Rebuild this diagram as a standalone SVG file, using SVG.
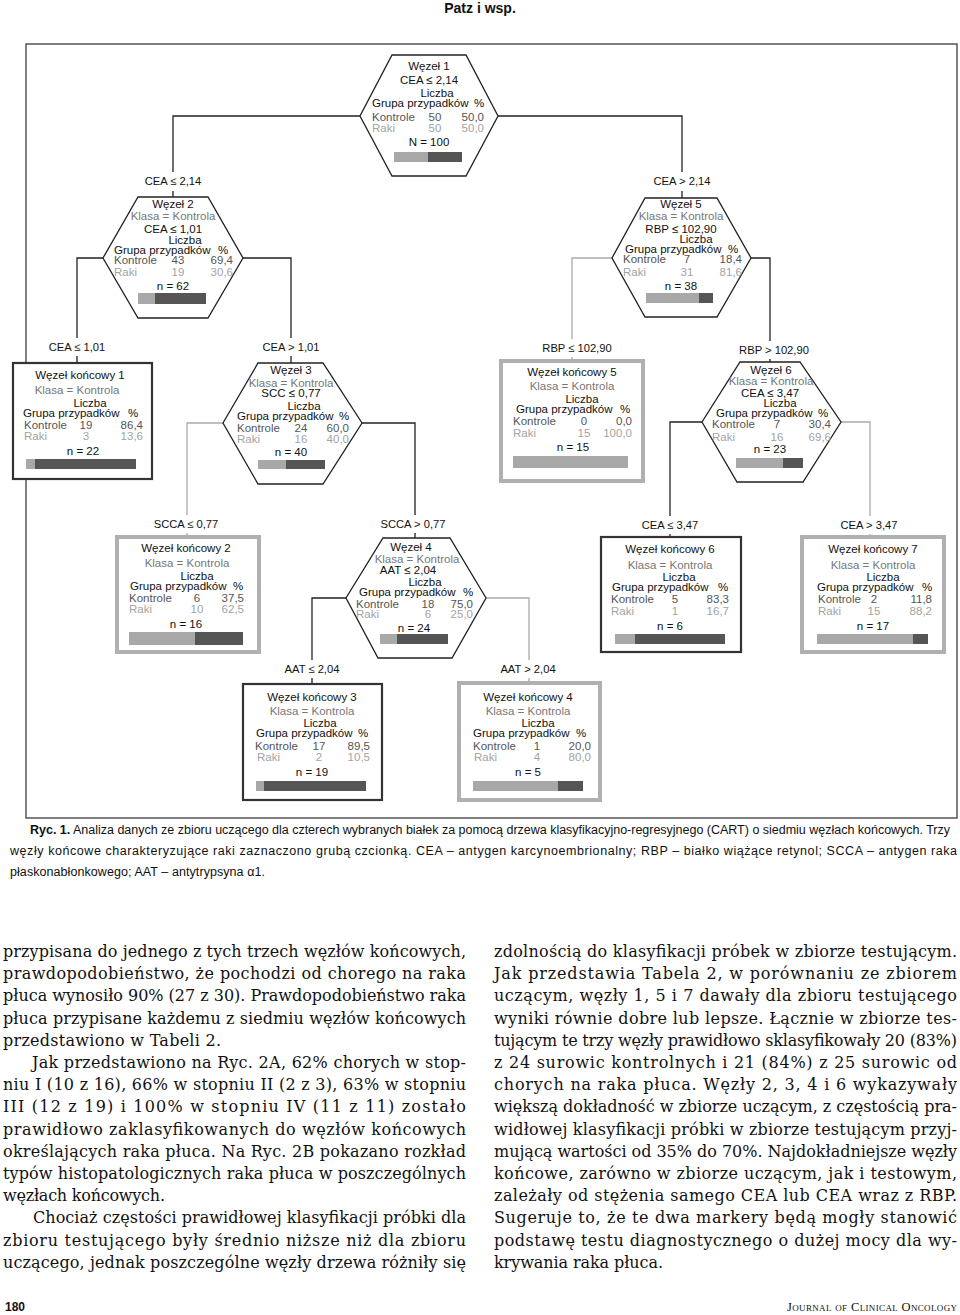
<svg xmlns="http://www.w3.org/2000/svg" width="960" height="1315" viewBox="0 0 960 1315">
<style>
text{font-family:"Liberation Sans",Arial,sans-serif;font-size:11.5px;fill:#111}
.m{text-anchor:middle}
.e{text-anchor:end}
.k{fill:#777}
.g1{fill:#555}
.g2{fill:#a3a3a3}
.lb{font-size:11.2px;text-anchor:middle}
.hex{fill:#fff;stroke:#222;stroke-width:1.3}
.tb{fill:#fff;stroke:#333;stroke-width:2.2}
.tg{fill:#fff;stroke:#b0b0b0;stroke-width:4}
.bl{fill:#a8a8a8}
.bd{fill:#555}
.c{fill:none;stroke:#222;stroke-width:1.3}
.cg{fill:none;stroke:#aaa;stroke-width:1.3}
.body{font-family:"DejaVu Serif","Liberation Serif",serif;font-size:16px;fill:#111}
.cap{font-family:"Liberation Sans Narrow","Liberation Sans",Arial,sans-serif;font-size:12.5px;fill:#111}
</style>

<text x="480" y="13" class="m" style="font-weight:bold;font-size:14px">Patz i wsp.</text>
<rect x="26" y="44" width="931" height="774" fill="none" stroke="#555" stroke-width="1.5"/>

<g id="connectors">
<path class="c" d="M360,116 H173 V172 M173,191 V197"/>
<path class="c" d="M498,116 H682 V172 M682,191 V198"/>
<path class="c" d="M103,258 H77 V338 M77,356 V363"/>
<path class="c" d="M243,258 H291 V338 M291,356 V363"/>
<path class="cg" d="M612,258 H572 V339 M572,357 V361"/>
<path class="c" d="M751,258 H770 V341 M770,359 V362"/>
<path class="cg" d="M223,423 H187 V515 M187,533 V537"/>
<path class="c" d="M362,423 H415 V515 M415,533 V538"/>
<path class="c" d="M702,422 H670 V516 M670,534 V537"/>
<path class="cg" d="M841,422 H870 V516 M870,534 V537"/>
<path class="c" d="M346,598 H312 V660 M312,678 V684"/>
<path class="cg" d="M486,598 H529 V660 M529,678 V683"/>
<text class="lb" x="173" y="185">CEA ≤ 2,14</text>
<text class="lb" x="682" y="185">CEA &gt; 2,14</text>
<text class="lb" x="77" y="351">CEA ≤ 1,01</text>
<text class="lb" x="291" y="351">CEA &gt; 1,01</text>
<text class="lb" x="577" y="352">RBP ≤ 102,90</text>
<text class="lb" x="774" y="354">RBP &gt; 102,90</text>
<text class="lb" x="186" y="528">SCCA ≤ 0,77</text>
<text class="lb" x="413" y="528">SCCA &gt; 0,77</text>
<text class="lb" x="670" y="529">CEA ≤ 3,47</text>
<text class="lb" x="869" y="529">CEA &gt; 3,47</text>
<text class="lb" x="312" y="673">AAT ≤ 2,04</text>
<text class="lb" x="528" y="673">AAT &gt; 2,04</text>
</g>

<g id="node1">
<polygon class="hex" points="392,55 466,55 498,116 466,176 392,176 360,116"/>
<text class="m" x="429" y="70">Węzeł 1</text>
<text class="m" x="429" y="84">CEA ≤ 2,14</text>
<text class="m" x="437" y="97">Liczba</text>
<text x="372" y="107">Grupa  przypadków</text><text class="m" x="479" y="107">%</text>
<text class="g1" x="372" y="121">Kontrole</text><text class="g1 m" x="435" y="121">50</text><text class="g1 e" x="484" y="121">50,0</text>
<text class="g2" x="372" y="132">Raki</text><text class="g2 m" x="435" y="132">50</text><text class="g2 e" x="484" y="132">50,0</text>
<text class="m" x="429" y="146">N = 100</text>
<rect class="bl" x="394" y="152" width="34" height="10"/><rect class="bd" x="428" y="152" width="34" height="10"/>
</g>

<g id="node2">
<polygon class="hex" points="138,197 208,197 243,258 208,318 138,318 103,258"/>
<text class="m" x="173" y="208">Węzeł 2</text>
<text class="m k" x="173" y="220">Klasa = Kontrola</text>
<text class="m" x="173" y="233">CEA ≤ 1,01</text>
<text class="m" x="185" y="244">Liczba</text>
<text x="114" y="254">Grupa  przypadków</text><text class="m" x="223" y="254">%</text>
<text class="g1" x="114" y="264">Kontrole</text><text class="g1 m" x="178" y="264">43</text><text class="g1 e" x="233" y="264">69,4</text>
<text class="g2" x="114" y="276">Raki</text><text class="g2 m" x="178" y="276">19</text><text class="g2 e" x="233" y="276">30,6</text>
<text class="m" x="173" y="290">n = 62</text>
<rect class="bl" x="138" y="293" width="17" height="11"/><rect class="bd" x="155" y="293" width="51" height="11"/>
</g>

<g id="node5">
<polygon class="hex" points="645,198 717,198 751,258 717,317 645,317 612,258"/>
<text class="m" x="681" y="208">Węzeł 5</text>
<text class="m k" x="681" y="220">Klasa = Kontrola</text>
<text class="m" x="681" y="233">RBP ≤ 102,90</text>
<text class="m" x="696" y="243">Liczba</text>
<text x="625" y="253">Grupa  przypadków</text><text class="m" x="733" y="253">%</text>
<text class="g1" x="623" y="263">Kontrole</text><text class="g1 m" x="687" y="263">7</text><text class="g1 e" x="742" y="263">18,4</text>
<text class="g2" x="623" y="276">Raki</text><text class="g2 m" x="687" y="276">31</text><text class="g2 e" x="742" y="276">81,6</text>
<text class="m" x="681" y="290">n = 38</text>
<rect class="bl" x="646" y="293" width="53" height="10"/><rect class="bd" x="699" y="293" width="14" height="10"/>
</g>

<g id="terminal1">
<rect class="tb" x="13" y="363" width="139" height="116"/>
<text class="m" x="80" y="379">Węzeł końcowy 1</text>
<text class="m k" x="77" y="394">Klasa = Kontrola</text>
<text class="m" x="90" y="407">Liczba</text>
<text x="23" y="417">Grupa  przypadków</text><text class="m" x="133" y="417">%</text>
<text class="g1" x="24" y="429">Kontrole</text><text class="g1 m" x="86" y="429">19</text><text class="g1 e" x="143" y="429">86,4</text>
<text class="g2" x="24" y="440">Raki</text><text class="g2 m" x="86" y="440">3</text><text class="g2 e" x="143" y="440">13,6</text>
<text class="m" x="83" y="455">n = 22</text>
<rect class="bl" x="26" y="459" width="9" height="10"/><rect class="bd" x="35" y="459" width="101" height="10"/>
</g>

<g id="node3">
<polygon class="hex" points="258,363 323,363 362,423 323,484 258,484 223,423"/>
<text class="m" x="291" y="374">Węzeł 3</text>
<text class="m k" x="291" y="387">Klasa = Kontrola</text>
<text class="m" x="291" y="397">SCC ≤ 0,77</text>
<text class="m" x="304" y="410">Liczba</text>
<text x="237" y="420">Grupa  przypadków</text><text class="m" x="344" y="420">%</text>
<text class="g1" x="237" y="432">Kontrole</text><text class="g1 m" x="301" y="432">24</text><text class="g1 e" x="349" y="432">60,0</text>
<text class="g2" x="237" y="443">Raki</text><text class="g2 m" x="301" y="443">16</text><text class="g2 e" x="349" y="443">40,0</text>
<text class="m" x="291" y="456">n = 40</text>
<rect class="bl" x="258" y="460" width="28" height="9"/><rect class="bd" x="286" y="460" width="39" height="9"/>
</g>

<g id="terminal5">
<rect class="tg" x="501" y="361" width="142" height="120"/>
<text class="m" x="572" y="376">Węzeł końcowy 5</text>
<text class="m k" x="572" y="390">Klasa = Kontrola</text>
<text class="m" x="582" y="403">Liczba</text>
<text x="516" y="413">Grupa  przypadków</text><text class="m" x="625" y="413">%</text>
<text class="g1" x="513" y="425">Kontrole</text><text class="g1 m" x="584" y="425">0</text><text class="g1 e" x="632" y="425">0,0</text>
<text class="g2" x="513" y="437">Raki</text><text class="g2 m" x="584" y="437">15</text><text class="g2 e" x="632" y="437">100,0</text>
<text class="m" x="573" y="451">n = 15</text>
<rect class="bl" x="513" y="456" width="115" height="12"/>
</g>

<g id="node6">
<polygon class="hex" points="740,362 800,362 841,422 803,482 737,482 702,422"/>
<text class="m" x="771" y="374">Węzeł 6</text>
<text class="m k" x="771" y="385">Klasa = Kontrola</text>
<text class="m" x="770" y="397">CEA ≤ 3,47</text>
<text class="m" x="780" y="407">Liczba</text>
<text x="716" y="417">Grupa  przypadków</text><text class="m" x="823" y="417">%</text>
<text class="g1" x="712" y="428">Kontrole</text><text class="g1 m" x="777" y="428">7</text><text class="g1 e" x="831" y="428">30,4</text>
<text class="g2" x="712" y="441">Raki</text><text class="g2 m" x="777" y="441">16</text><text class="g2 e" x="831" y="441">69,6</text>
<text class="m" x="770" y="453">n = 23</text>
<rect class="bl" x="736" y="458" width="47" height="10"/><rect class="bd" x="783" y="458" width="20" height="10"/>
</g>

<g id="terminal2">
<rect class="tg" x="117" y="537" width="142" height="115"/>
<text class="m" x="186" y="552">Węzeł końcowy 2</text>
<text class="m k" x="187" y="567">Klasa = Kontrola</text>
<text class="m" x="197" y="580">Liczba</text>
<text x="130" y="590">Grupa  przypadków</text><text class="m" x="238" y="590">%</text>
<text class="g1" x="129" y="602">Kontrole</text><text class="g1 m" x="197" y="602">6</text><text class="g1 e" x="244" y="602">37,5</text>
<text class="g2" x="129" y="613">Raki</text><text class="g2 m" x="197" y="613">10</text><text class="g2 e" x="244" y="613">62,5</text>
<text class="m" x="186" y="628">n = 16</text>
<rect class="bl" x="129" y="632" width="66" height="13"/><rect class="bd" x="195" y="632" width="48" height="13"/>
</g>

<g id="node4">
<polygon class="hex" points="383,538 450,538 486,598 452,658 378,658 346,598"/>
<text class="m" x="411" y="551">Węzeł 4</text>
<text class="m k" x="417" y="563">Klasa = Kontrola</text>
<text class="m" x="408" y="574">AAT ≤ 2,04</text>
<text class="m" x="425" y="586">Liczba</text>
<text x="359" y="596">Grupa  przypadków</text><text class="m" x="468" y="596">%</text>
<text class="g1" x="356" y="608">Kontrole</text><text class="g1 m" x="428" y="608">18</text><text class="g1 e" x="473" y="608">75,0</text>
<text class="g2" x="356" y="618">Raki</text><text class="g2 m" x="428" y="618">6</text><text class="g2 e" x="473" y="618">25,0</text>
<text class="m" x="414" y="632">n = 24</text>
<rect class="bl" x="380" y="634" width="17" height="10"/><rect class="bd" x="397" y="634" width="51" height="10"/>
</g>

<g id="terminal6">
<rect class="tb" x="601" y="537" width="140" height="115"/>
<text class="m" x="670" y="553">Węzeł końcowy 6</text>
<text class="m k" x="670" y="569">Klasa = Kontrola</text>
<text class="m" x="679" y="581">Liczba</text>
<text x="612" y="591">Grupa  przypadków</text><text class="m" x="723" y="591">%</text>
<text class="g1" x="611" y="603">Kontrole</text><text class="g1 m" x="675" y="603">5</text><text class="g1 e" x="729" y="603">83,3</text>
<text class="g2" x="611" y="615">Raki</text><text class="g2 m" x="675" y="615">1</text><text class="g2 e" x="729" y="615">16,7</text>
<text class="m" x="670" y="630">n = 6</text>
<rect class="bl" x="615" y="634" width="20" height="10"/><rect class="bd" x="635" y="634" width="90" height="10"/>
</g>

<g id="terminal7">
<rect class="tg" x="802" y="537" width="142" height="115"/>
<text class="m" x="873" y="553">Węzeł końcowy 7</text>
<text class="m k" x="873" y="569">Klasa = Kontrola</text>
<text class="m" x="883" y="581">Liczba</text>
<text x="817" y="591">Grupa  przypadków</text><text class="m" x="927" y="591">%</text>
<text class="g1" x="818" y="603">Kontrole</text><text class="g1 m" x="874" y="603">2</text><text class="g1 e" x="932" y="603">11,8</text>
<text class="g2" x="818" y="615">Raki</text><text class="g2 m" x="874" y="615">15</text><text class="g2 e" x="932" y="615">88,2</text>
<text class="m" x="873" y="630">n = 17</text>
<rect class="bl" x="817" y="634" width="96" height="10"/><rect class="bd" x="913" y="634" width="15" height="10"/>
</g>

<g id="terminal3">
<rect class="tb" x="243" y="684" width="139" height="116"/>
<text class="m" x="312" y="701">Węzeł końcowy 3</text>
<text class="m k" x="312" y="715">Klasa = Kontrola</text>
<text class="m" x="320" y="727">Liczba</text>
<text x="256" y="737">Grupa  przypadków</text><text class="m" x="363" y="737">%</text>
<text class="g1" x="255" y="750">Kontrole</text><text class="g1 m" x="319" y="750">17</text><text class="g1 e" x="370" y="750">89,5</text>
<text class="g2" x="257" y="761">Raki</text><text class="g2 m" x="319" y="761">2</text><text class="g2 e" x="370" y="761">10,5</text>
<text class="m" x="312" y="776">n = 19</text>
<rect class="bl" x="256" y="781" width="8" height="10"/><rect class="bd" x="264" y="781" width="102" height="10"/>
</g>

<g id="terminal4">
<rect class="tg" x="459" y="683" width="141" height="117"/>
<text class="m" x="528" y="701">Węzeł końcowy 4</text>
<text class="m k" x="528" y="715">Klasa = Kontrola</text>
<text class="m" x="538" y="727">Liczba</text>
<text x="473" y="737">Grupa  przypadków</text><text class="m" x="581" y="737">%</text>
<text class="g1" x="473" y="750">Kontrole</text><text class="g1 m" x="537" y="750">1</text><text class="g1 e" x="591" y="750">20,0</text>
<text class="g2" x="474" y="761">Raki</text><text class="g2 m" x="537" y="761">4</text><text class="g2 e" x="591" y="761">80,0</text>
<text class="m" x="528" y="776">n = 5</text>
<rect class="bl" x="473" y="781" width="85" height="10"/><rect class="bd" x="558" y="781" width="25" height="10"/>
</g>

<g id="caption">
<text class="cap" x="30" y="834" textLength="920" lengthAdjust="spacing"><tspan style="font-weight:bold">Ryc. 1.</tspan> Analiza danych ze zbioru uczącego dla czterech wybranych białek za pomocą drzewa klasyfikacyjno-regresyjnego (CART) o siedmiu węzłach końcowych. Trzy</text>
<text class="cap" x="10" y="855" textLength="947" lengthAdjust="spacing">węzły końcowe charakteryzujące raki zaznaczono grubą czcionką. CEA – antygen karcynoembrionalny; RBP – białko wiążące retynol; SCCA – antygen raka</text>
<text class="cap" x="10" y="876" textLength="255" lengthAdjust="spacing">płaskonabłonkowego; AAT – antytrypsyna α1.</text>
</g>

<g id="body-left">
<text class="body" x="3" y="957" textLength="463" lengthAdjust="spacing">przypisana do jednego z tych trzech węzłów końcowych,</text>
<text class="body" x="3" y="979.2" textLength="463" lengthAdjust="spacing">prawdopodobieństwo, że pochodzi od chorego na raka</text>
<text class="body" x="3" y="1001.4" textLength="463" lengthAdjust="spacing">płuca wynosiło 90% (27 z 30). Prawdopodobieństwo raka</text>
<text class="body" x="3" y="1023.6" textLength="463" lengthAdjust="spacing">płuca przypisane każdemu z siedmiu węzłów końcowych</text>
<text class="body" x="3" y="1045.8" textLength="218" lengthAdjust="spacing">przedstawiono w Tabeli 2.</text>
<text class="body" x="32" y="1068" textLength="434" lengthAdjust="spacing">Jak przedstawiono na Ryc. 2A, 62% chorych w stop-</text>
<text class="body" x="3" y="1090.2" textLength="463" lengthAdjust="spacing">niu I (10 z 16), 66% w stopniu II (2 z 3), 63% w stopniu</text>
<text class="body" x="3" y="1112.4" textLength="463" lengthAdjust="spacing">III (12 z 19) i 100% w stopniu IV (11 z 11) zostało</text>
<text class="body" x="3" y="1134.6" textLength="463" lengthAdjust="spacing">prawidłowo zaklasyfikowanych do węzłów końcowych</text>
<text class="body" x="3" y="1156.8" textLength="463" lengthAdjust="spacing">określających raka płuca. Na Ryc. 2B pokazano rozkład</text>
<text class="body" x="3" y="1179" textLength="463" lengthAdjust="spacing">typów histopatologicznych raka płuca w poszczególnych</text>
<text class="body" x="3" y="1201.2" textLength="162" lengthAdjust="spacing">węzłach końcowych.</text>
<text class="body" x="33" y="1223.4" textLength="433" lengthAdjust="spacing">Chociaż częstości prawidłowej klasyfikacji próbki dla</text>
<text class="body" x="3" y="1245.6" textLength="463" lengthAdjust="spacing">zbioru testującego były średnio niższe niż dla zbioru</text>
<text class="body" x="3" y="1267.8" textLength="463" lengthAdjust="spacing">uczącego, jednak poszczególne węzły drzewa różniły się</text>
</g>

<g id="body-right">
<text class="body" x="494" y="957" textLength="463" lengthAdjust="spacing">zdolnością do klasyfikacji próbek w zbiorze testującym.</text>
<text class="body" x="494" y="979.2" textLength="463" lengthAdjust="spacing">Jak przedstawia Tabela 2, w porównaniu ze zbiorem</text>
<text class="body" x="494" y="1001.4" textLength="463" lengthAdjust="spacing">uczącym, węzły 1, 5 i 7 dawały dla zbioru testującego</text>
<text class="body" x="494" y="1023.6" textLength="463" lengthAdjust="spacing">wyniki równie dobre lub lepsze. Łącznie w zbiorze tes-</text>
<text class="body" x="494" y="1045.8" textLength="463" lengthAdjust="spacing">tującym te trzy węzły prawidłowo sklasyfikowały 20 (83%)</text>
<text class="body" x="494" y="1068" textLength="463" lengthAdjust="spacing">z 24 surowic kontrolnych i 21 (84%) z 25 surowic od</text>
<text class="body" x="494" y="1090.2" textLength="463" lengthAdjust="spacing">chorych na raka płuca. Węzły 2, 3, 4 i 6 wykazywały</text>
<text class="body" x="494" y="1112.4" textLength="463" lengthAdjust="spacing">większą dokładność w zbiorze uczącym, z częstością pra-</text>
<text class="body" x="494" y="1134.6" textLength="463" lengthAdjust="spacing">widłowej klasyfikacji próbki w zbiorze testującym przyj-</text>
<text class="body" x="494" y="1156.8" textLength="463" lengthAdjust="spacing">mującą wartości od 35% do 70%. Najdokładniejsze węzły</text>
<text class="body" x="494" y="1179" textLength="463" lengthAdjust="spacing">końcowe, zarówno w zbiorze uczącym, jak i testowym,</text>
<text class="body" x="494" y="1201.2" textLength="463" lengthAdjust="spacing">zależały od stężenia samego CEA lub CEA wraz z RBP.</text>
<text class="body" x="494" y="1223.4" textLength="463" lengthAdjust="spacing">Sugeruje to, że te dwa markery będą mogły stanowić</text>
<text class="body" x="494" y="1245.6" textLength="463" lengthAdjust="spacing">podstawę testu diagnostycznego o dużej mocy dla wy-</text>
<text class="body" x="494" y="1267.8" textLength="169" lengthAdjust="spacing">krywania raka płuca.</text>
</g>

<g id="footer">
<text class="cap" x="5" y="1311" style="font-weight:bold;font-size:12px">180</text>
<text x="957" y="1311" class="e" textLength="170" lengthAdjust="spacing" style="font-family:'Liberation Serif','Times New Roman',serif;font-size:12.5px;font-variant:small-caps">Journal of Clinical Oncology</text>
</g>
</svg>
